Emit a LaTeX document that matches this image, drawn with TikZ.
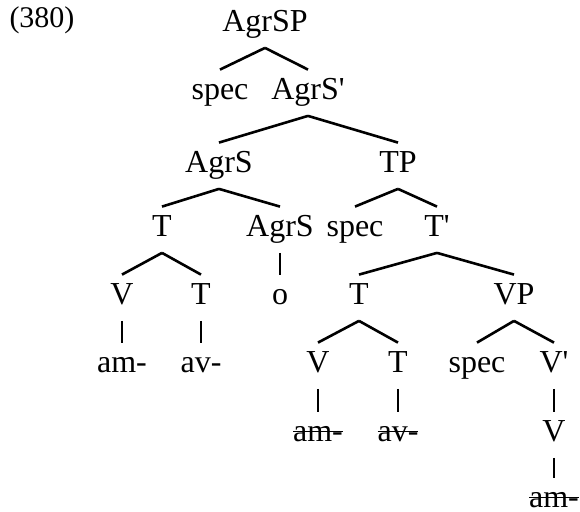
\documentclass[tikz,border=0pt]{standalone}
\usepackage{fontspec}
\setmainfont{Liberation Serif}
\newcommand{\crossed}[1]{\setbox0\hbox{#1}\rlap{\rule[5pt]{\wd0}{0.6pt}}\box0}
\tikzset{
	cat/.style={anchor=base, inner xsep=0pt, inner ysep=0pt, text height=15pt, text depth=7.75pt},
	branch/.style={line width=1.3pt}
}

\begin{document}
\begin{tikzpicture}[x=0.5pt, y=-0.5pt, font=\fontsize{16}{19}\selectfont]
			\useasboundingbox (0,0) rectangle (580,512);

			% Example number
			\node[anchor=base, font=\fontsize{15}{18}\selectfont] (num) at (42,28) {(380)};

			% Categories, level by level
			\node[cat] (agrsp) at (265,32) {AgrSP};
			\node[cat] (spec1) at (220,100) {spec};
			\node[cat] (agrsbar) at (308,100) {AgrS\textquotesingle};
			\node[cat] (agrs1) at (219,173) {AgrS};
			\node[cat] (tp) at (398,173) {TP};
			\node[cat] (t1) at (162,237) {T};
			\node[cat] (agrs2) at (280,237) {AgrS};
			\node[cat] (spec2) at (355,237) {spec};
			\node[cat] (tbar) at (437,237) {T\textquotesingle};
			\node[cat] (v1) at (122,305) {V};
			\node[cat] (t2) at (201,305) {T};
			\node[cat] (o) at (280,305) {o};
			\node[cat] (t3) at (359,305) {T};
			\node[cat] (vp) at (514,305) {VP};
			\node[cat] (am1) at (122,373) {am-};
			\node[cat] (av1) at (201,373) {av-};
			\node[cat] (v2) at (318,373) {V};
			\node[cat] (t4) at (398,373) {T};
			\node[cat] (spec3) at (477,373) {spec};
			\node[cat] (vbar) at (554,373) {V\textquotesingle};
			\node[cat] (am2) at (318,442) {\crossed{am-}};
			\node[cat] (av2) at (398,442) {\crossed{av-}};
			\node[cat] (v3) at (554,442) {V};
			\node[cat] (am3) at (554,508) {\crossed{am-}};

			% Branches
			\foreach \p/\c in {agrsp/spec1, agrsp/agrsbar, agrsbar/agrs1, agrsbar/tp,
				agrs1/t1, agrs1/agrs2, tp/spec2, tp/tbar, t1/v1, t1/t2, agrs2/o,
				tbar/t3, tbar/vp, v1/am1, t2/av1, t3/v2, t3/t4, vp/spec3, vp/vbar,
				v2/am2, t4/av2, vbar/v3, v3/am3}
				\draw[branch] (\p.south) -- (\c.north);
		\end{tikzpicture}
\end{document}
